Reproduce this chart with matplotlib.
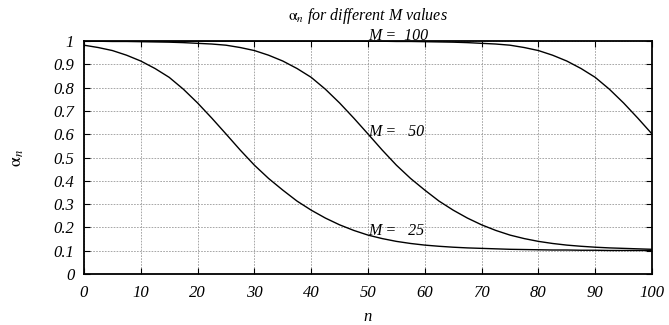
import matplotlib.pyplot as plt
import numpy as np

n_vals = np.arange(0, 100.1, 2.5)
alpha_m25 = [0.982, 0.972, 0.959, 0.939, 0.914, 0.882, 0.844, 0.793, 0.734, 0.669,
             0.601, 0.532, 0.467, 0.410, 0.360, 0.313, 0.274, 0.240, 0.211, 0.187,
             0.167, 0.152, 0.140, 0.131, 0.124, 0.119, 0.115, 0.112, 0.110, 0.108,
             0.106, 0.105, 0.104, 0.103, 0.103, 0.102, 0.102, 0.101, 0.101, 0.101,
             0.101]
alpha_m50 = [0.999, 0.999, 0.998, 0.998, 0.997, 0.996, 0.995, 0.993, 0.990, 0.987,
             0.982, 0.972, 0.959, 0.939, 0.914, 0.882, 0.844, 0.793, 0.734, 0.669,
             0.601, 0.532, 0.467, 0.410, 0.360, 0.313, 0.274, 0.240, 0.211, 0.187,
             0.167, 0.152, 0.140, 0.131, 0.124, 0.119, 0.115, 0.112, 0.110, 0.108,
             0.106]
alpha_m100 = [1.000, 1.000, 1.000, 1.000, 1.000, 1.000, 1.000, 1.000, 1.000, 1.000,
              1.000, 1.000, 1.000, 1.000, 1.000, 1.000, 1.000, 1.000, 1.000, 1.000,
              0.999, 0.999, 0.998, 0.998, 0.997, 0.996, 0.995, 0.993, 0.990, 0.987,
              0.982, 0.972, 0.959, 0.939, 0.914, 0.882, 0.844, 0.793, 0.734, 0.669,
              0.601]
m_labels = ['M =  100', 'M =   50', 'M =   25']
label_y = [1.02, 0.61, 0.186]

plt.rcParams['font.family'] = ['Liberation Serif', 'DejaVu Serif']
plt.rcParams['mathtext.fontset'] = 'stix'

fig = plt.figure(figsize=(6.69, 3.25), dpi=100)
ax = fig.add_axes([84 / 669, 51 / 325, 568 / 669, 233 / 325])

for series in (alpha_m25, alpha_m50, alpha_m100):
    ax.plot(n_vals, series, color='black', lw=1.0)

for text, y in zip(m_labels, label_y):
    ax.text(50, y, text, fontsize=11.5, style='italic', ha='left', va='center')

ax.set_xlim(0, 100)
ax.set_ylim(0, 1)
ax.set_xticks(np.arange(0, 101, 10))
ax.set_yticks(np.arange(0, 1.01, 0.1))
ax.set_xticklabels([str(v) for v in range(0, 101, 10)])
ax.set_yticklabels(['0'] + ['%.1f' % v for v in np.arange(0.1, 0.95, 0.1)] + ['1'])
ax.grid(True, color='#999999', ls=(0, (2, 1.5)), lw=0.6)
ax.tick_params(direction='in', length=4, right=True, top=True, labelsize=12)
ax.tick_params(axis='x', pad=8)
ax.tick_params(axis='y', pad=7)
for lab in ax.get_xticklabels() + ax.get_yticklabels():
    lab.set_style('italic')
for sp in ax.spines.values():
    sp.set_linewidth(1.3)

ax.set_title(r'$\mathrm{\alpha}_n$ for different M values', fontsize=11.5,
             style='italic', pad=15)
ax.set_xlabel('n', fontsize=12, style='italic', labelpad=6)
ax.set_ylabel(r'$\mathrm{\alpha}_n$', fontsize=13, labelpad=20)

fig.savefig('out.png', dpi=100)
